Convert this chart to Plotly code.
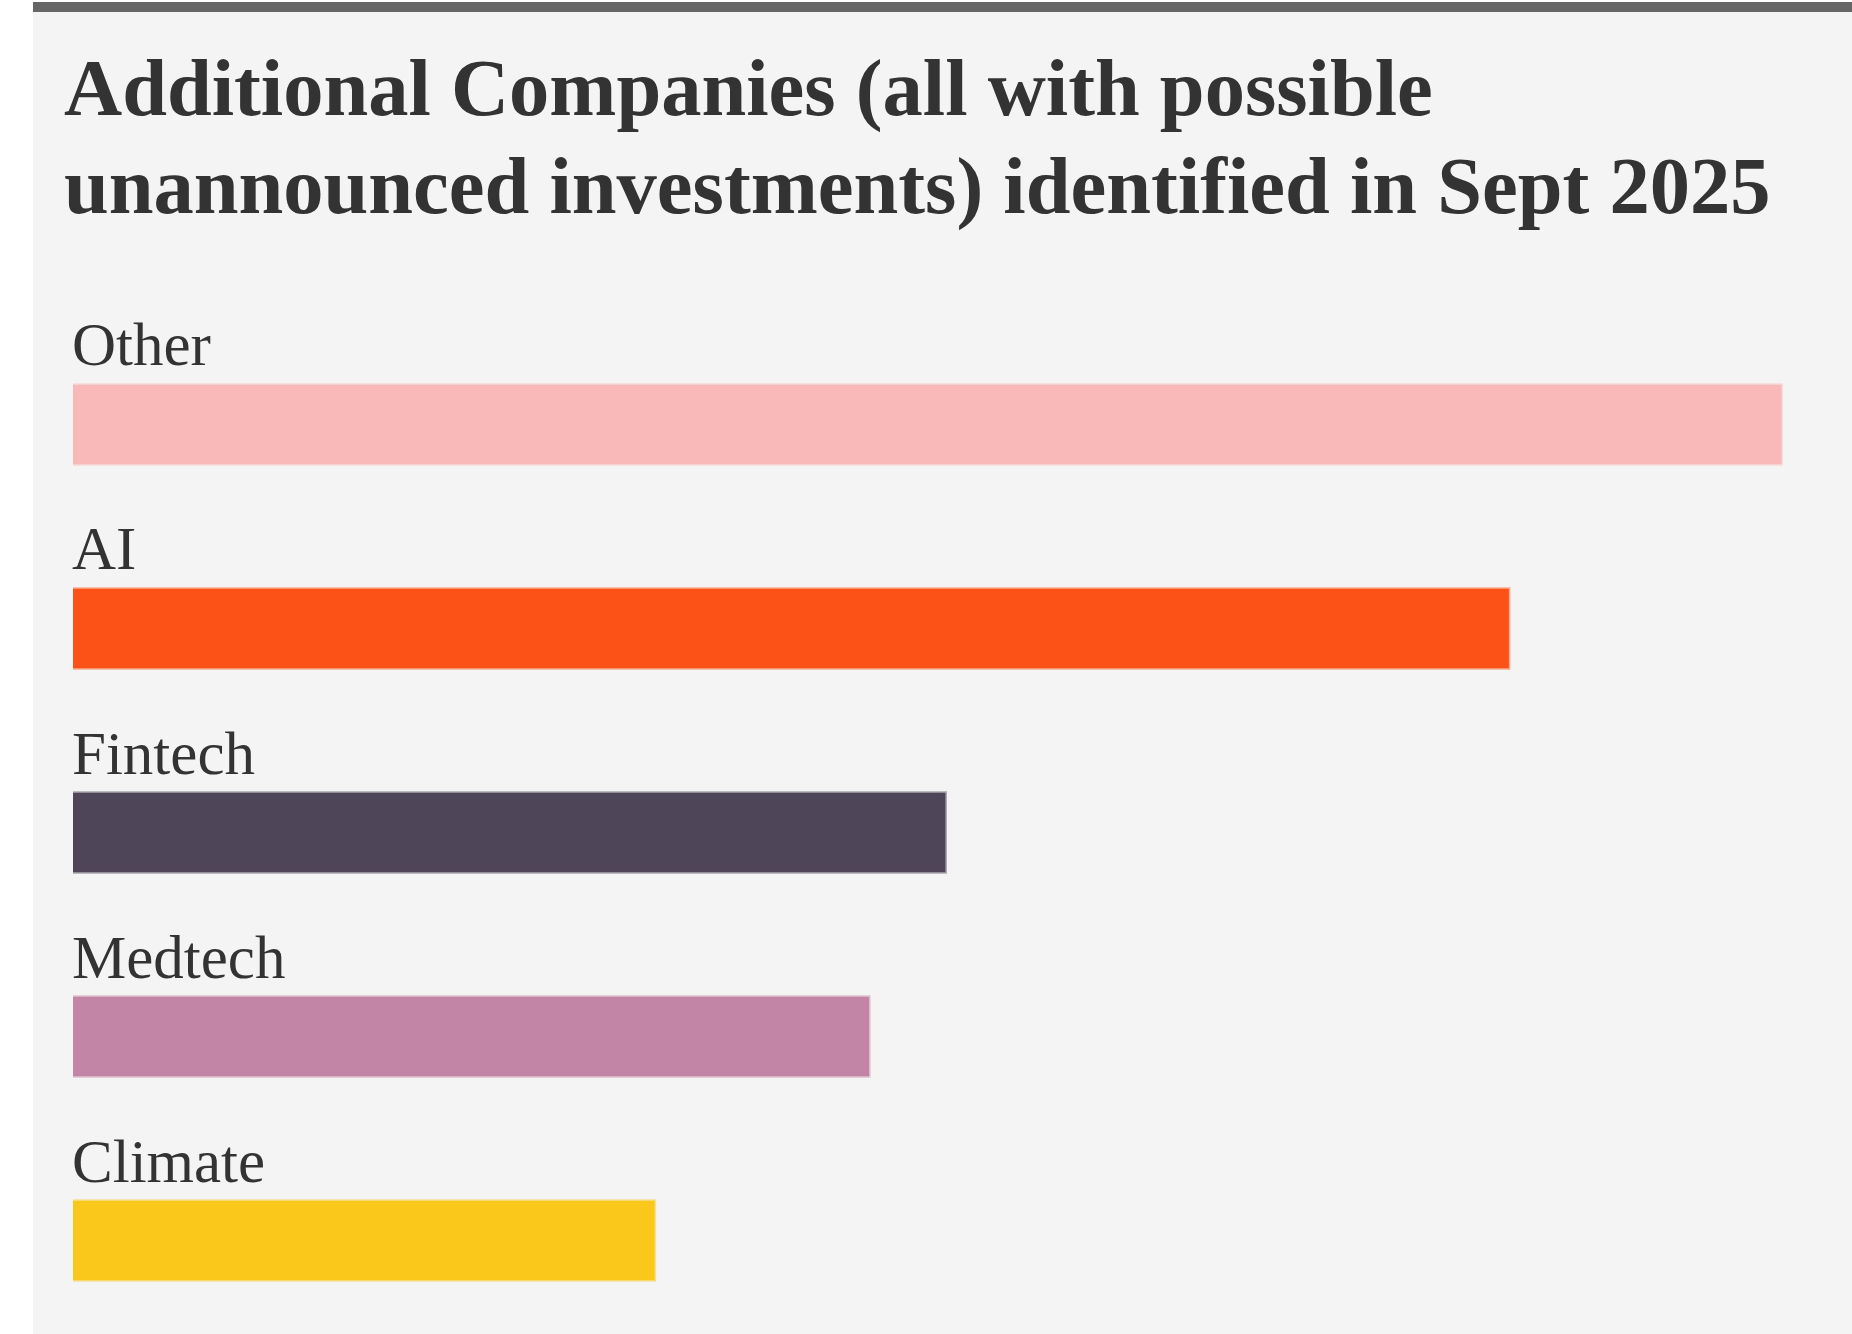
import plotly.graph_objects as go

# ---- data ----
categories = ["Other", "AI", "Fintech", "Medtech", "Climate"]
values = [47, 39.5, 24, 21.9, 16]
colors = ["#f9b9b9", "#fc5217", "#4f4558", "#c385a5", "#f9c81a"]
border_colors = ["rgba(249,185,185,0.45)", "rgba(252,82,23,0.45)", "rgba(79,69,88,0.45)",
                 "rgba(195,133,165,0.45)", "rgba(249,200,26,0.45)"]
title_lines = ["Additional Companies (all with possible",
               "unannounced investments) identified in Sept 2025"]

W, H = 1852, 1334
ML, MR, MT, MB = 73, 0, 300, 0
PW, PH = W - ML - MR, H - MT - MB


def px_x(p):
    return (p - ML) / PW


def px_y(p):
    return (H - MB - p) / PH


fig = go.Figure()
fig.add_trace(go.Bar(
    x=values, y=categories, orientation="h",
    marker=dict(color=colors, line=dict(color=border_colors, width=3)),
    width=0.39, hoverinfo="skip", showlegend=False,
))

annotations = []
for c in categories:
    annotations.append(dict(
        x=0, y=c, xref="x", yref="y", text=c, showarrow=False,
        xanchor="left", yanchor="bottom", xshift=-3, yshift=44,
        font=dict(family="Liberation Serif, Times New Roman, serif", size=61, color="#333333"),
    ))
for line, base in zip(title_lines, [117, 215]):
    annotations.append(dict(
        x=px_x(62), y=px_y(base + 18), xref="paper", yref="paper", text="<b>" + line + "</b>",
        showarrow=False, xanchor="left", yanchor="bottom",
        font=dict(family="Liberation Serif, Times New Roman, serif", size=80.5, color="#333333"),
    ))

shapes = [
    dict(type="rect", xref="paper", yref="paper", x0=px_x(33), x1=px_x(W), y0=px_y(H), y1=px_y(2),
         fillcolor="#f4f4f4", line=dict(width=0), layer="below"),
    dict(type="rect", xref="paper", yref="paper", x0=px_x(33), x1=px_x(W), y0=px_y(12), y1=px_y(2),
         fillcolor="#666666", line=dict(width=0), layer="below"),
]

fig.update_layout(
    width=W, height=H,
    margin=dict(l=ML, r=MR, t=MT, b=MB, pad=0),
    paper_bgcolor="#ffffff",
    plot_bgcolor="rgba(0,0,0,0)",
    bargap=0.6,
    xaxis=dict(range=[0, 47 * PW / 1708.5], visible=False, fixedrange=True),
    yaxis=dict(type="category", categoryorder="array", categoryarray=categories,
               range=[4.458, -0.610], visible=False, fixedrange=True),
    annotations=annotations,
    shapes=shapes,
)

fig.write_html("out.html", config={"displayModeBar": False},
               post_script="document.body.style.margin='0px';document.body.style.overflow='hidden';")
